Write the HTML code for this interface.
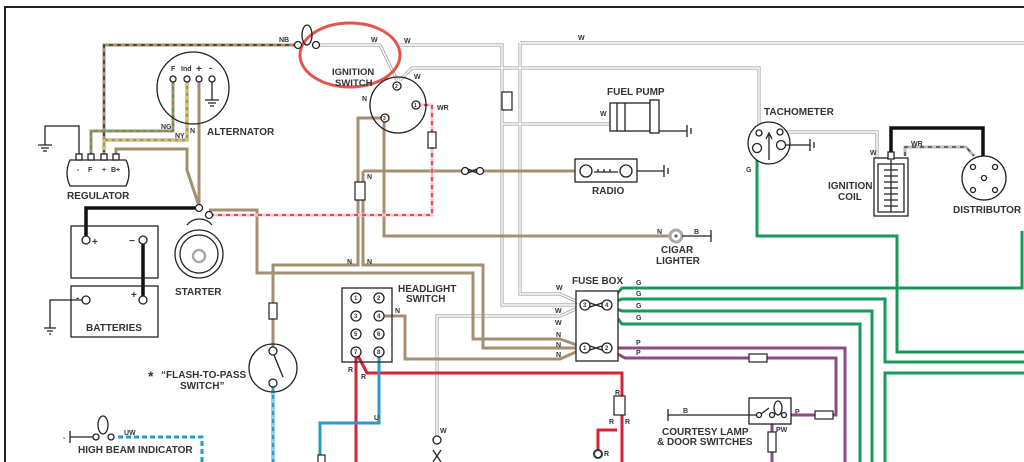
<!DOCTYPE html>
<html><head><meta charset="utf-8"><style>
html,body{margin:0;padding:0;background:#fff;}
svg{display:block;}
text{font-family:"Liberation Sans",Arial,sans-serif;font-weight:bold;fill:#333;}
.l{font-size:10px;}
.s{font-size:7px;}
.br{stroke:#a48f72;stroke-width:3;fill:none;}
.wo{stroke:#a9a9a9;stroke-width:3.2;fill:none;}
.wi{stroke:#fff;stroke-width:1.4;fill:none;}
.g{stroke:#179a58;stroke-width:3;fill:none;}
.p{stroke:#8e4a86;stroke-width:3;fill:none;}
.r{stroke:#d5233c;stroke-width:3;fill:none;}
.u{stroke:#2a9ac8;stroke-width:3;fill:none;}
.k{stroke:#222;stroke-width:1.3;fill:none;}
.kf{stroke:#222;stroke-width:1.3;fill:#fff;}
</style></head><body>
<svg width="1024" height="462" viewBox="0 0 1024 462" xmlns="http://www.w3.org/2000/svg">
<rect width="1024" height="462" fill="#fff"/>
<path d="M5,462 V7 H1024" stroke="#222" stroke-width="2" fill="none"/>

<g class="wo">
<path d="M316,45 H380 L397,80"/><path d="M400,45 H502 V124 H610"/><path d="M520,43 H1024"/>
<path d="M520,43 V294 H560 L585,305"/><path d="M502,124 V305 H585"/><path d="M400,80 L412,68 H759 V125"/>
<path d="M780,132 H877 V158"/><path d="M437,440 V316 H560 L585,305"/>
</g>
<g class="wi">
<path d="M316,45 H380 L397,80"/><path d="M400,45 H502 V124 H610"/><path d="M520,43 H1024"/>
<path d="M520,43 V294 H560 L585,305"/><path d="M502,124 V305 H585"/><path d="M400,80 L412,68 H759 V125"/>
<path d="M780,132 H877 V158"/><path d="M437,440 V316 H560 L585,305"/>
</g>

<path d="M297,45 H104 V156" stroke="#a48f72" stroke-width="3" fill="none"/>
<path d="M297,45 H104 V156" stroke="#222" stroke-width="1.3" stroke-dasharray="4,4" fill="none"/>
<path d="M91,156 V131 H173 V79" stroke="#a48f72" stroke-width="3" fill="none"/>
<path d="M91,156 V131 H173 V79" stroke="#2aa34a" stroke-width="1.3" stroke-dasharray="4,3" fill="none"/>
<path d="M104,150 V140 H187 V79" stroke="#a48f72" stroke-width="3" fill="none"/>
<path d="M104,150 V140 H187 V79" stroke="#f4e040" stroke-width="1.3" stroke-dasharray="4,3" fill="none"/>

<path class="br" d="M199,80 V206"/>
<path class="br" d="M116,156 V149 H187 V170 L199,206"/>
<path class="br" d="M209,210 H257 V273 H473 V339 H560 L585,348"/>
<path class="br" d="M384,118 V236 H670"/>
<path class="br" d="M384,118 H358 V265 H273 V351"/>
<path class="br" d="M363,171 H580"/>
<path class="br" d="M363,171 V265 H483 V348 H585"/>
<path class="br" d="M379,316 H405 V359 H560 L585,348"/>
<path d="M416,105 H432 V215 H210" stroke="#f3c7c7" stroke-width="3" fill="none"/>
<path d="M416,105 H432 V215 H210" stroke="#d5233c" stroke-width="1.5" stroke-dasharray="4,4" fill="none"/>
<path d="M905,156 V147 H966 L974,156" stroke="#bbb" stroke-width="3" fill="none"/>
<path d="M905,156 V147 H966 L974,156" stroke="#333" stroke-width="1.3" stroke-dasharray="4,4" fill="none"/>

<path d="M891,156 V128 H983 V178" stroke="#111" stroke-width="3.5" fill="none"/>
<path d="M199,208 H86 V240" stroke="#111" stroke-width="3.5" fill="none"/>
<path d="M143,240 V299" stroke="#111" stroke-width="3.5" fill="none"/>

<path class="g" d="M757,148 V236 H897 V352 H1024"/>
<path class="g" d="M607,305 L622,288 H1022 V231"/>
<path class="g" d="M607,305 L622,299 H885 V362 H1024"/>
<path class="g" d="M607,305 L622,311 H872 V462"/>
<path class="g" d="M607,305 L622,324 H860 V462"/>
<path class="g" d="M885,462 V373 H1024"/>
<path class="p" d="M607,348 H845 V462"/>
<path class="p" d="M607,348 L625,358 H836 V415 H790"/>
<path class="p" d="M772,420 V462"/>
<path class="r" d="M356,352 V462"/>
<path class="r" d="M356,352 L367,373 H622 V462"/>
<path class="r" d="M617,430 H598 V450"/>
<path class="u" d="M379,352 V423 H320 V462"/>
<path d="M273,383 V462" stroke="#2a9ac8" stroke-width="3" fill="none"/>
<path d="M273,383 V462" stroke="#fff" stroke-width="1" stroke-dasharray="4,4" fill="none"/>
<path d="M118,437 H202 V462" stroke="#2a9ac8" stroke-width="3" stroke-dasharray="5,3" fill="none"/>

<g fill="#fff" stroke="#222" stroke-width="1.2">
<rect x="502" y="92" width="10" height="18"/>
<rect x="428" y="132" width="8" height="16"/>
<rect x="355" y="182" width="10" height="18"/>
<rect x="269" y="303" width="8" height="16"/>
<rect x="614" y="396" width="11" height="19"/>
<rect x="749" y="354" width="18" height="8"/>
<rect x="815" y="411" width="18" height="8"/>
<rect x="768" y="432" width="8" height="20"/>
<rect x="318" y="455" width="7" height="10"/>
</g>

<ellipse cx="350" cy="55" rx="50" ry="32" fill="none" stroke="#e2574c" stroke-width="3"/>
<circle class="k" cx="398" cy="105" r="28"/>
<circle class="kf" cx="397" cy="86" r="4"/><circle class="kf" cx="416" cy="105" r="4"/><circle class="kf" cx="385" cy="118" r="4"/>
<text x="395" y="88" style="font-size:5px">2</text><text x="414" y="107" style="font-size:5px">1</text><text x="383" y="120" style="font-size:5px">3</text>
<text class="l" x="332" y="75" style="font-size:9.5px">IGNITION</text><text class="l" x="335" y="86" style="font-size:9.5px">SWITCH</text>
<ellipse cx="307" cy="35" rx="5" ry="10" class="k"/>
<circle class="kf" cx="298" cy="45" r="3.5"/><circle class="kf" cx="316" cy="45" r="3.5"/>

<circle class="k" cx="193" cy="88" r="36"/>
<g class="kf"><circle cx="173" cy="79" r="3"/><circle cx="187" cy="79" r="3"/><circle cx="199" cy="79" r="3"/><circle cx="212" cy="79" r="3"/></g>
<path class="k" d="M212,82 V100 M205,100 H219 M208,103 H216 M210,106 H214"/>
<text class="s" x="171" y="71">F</text><text class="s" x="181" y="71">Ind</text><text class="l" x="196" y="72">+</text><text class="l" x="209" y="71">-</text>
<text class="l" x="207" y="135">ALTERNATOR</text>

<path class="k" d="M45,145 V126 H79 V156"/>
<path class="k" d="M38,145 H52 M41,148 H49 M43,151 H47"/>
<path class="kf" d="M70,160 H126 Q132,173 126,186 H70 Q64,173 70,160 Z"/>
<g class="kf"><rect x="76" y="154" width="6" height="6"/><rect x="88" y="154" width="6" height="6"/><rect x="101" y="154" width="6" height="6"/><rect x="113" y="154" width="6" height="6"/></g>
<text class="s" x="77" y="172">-</text><text class="s" x="88" y="172">F</text><text class="s" x="102" y="172">+</text><text class="s" x="111" y="172">B+</text>
<text class="l" x="67" y="199">REGULATOR</text>

<circle class="kf" cx="199" cy="254" r="24"/><circle class="k" cx="199" cy="254" r="19"/>
<circle cx="199" cy="256" r="6" fill="none" stroke="#aaa" stroke-width="2.5"/>
<circle class="kf" cx="199" cy="208" r="3.5"/><circle class="kf" cx="209" cy="215" r="3.5"/>
<path class="k" d="M187,225 A16,16 0 0 1 212,225"/>
<text class="l" x="175" y="295">STARTER</text>

<rect class="k" x="71" y="226" width="87" height="52"/>
<rect class="k" x="71" y="286" width="87" height="51"/>
<circle class="kf" cx="86" cy="240" r="4"/><circle class="kf" cx="143" cy="240" r="4"/>
<circle class="kf" cx="86" cy="300" r="4"/><circle class="kf" cx="143" cy="300" r="4"/>
<text class="l" x="92" y="245">+</text><text class="l" x="129" y="244">−</text>
<text class="l" x="76" y="301">-</text><text class="l" x="131" y="298">+</text>
<path class="k" d="M82,300 H50 V328 M44,328 H56 M47,331 H53 M49,334 H51"/>
<text class="l" x="86" y="331">BATTERIES</text>

<rect class="k" x="342" y="288" width="50" height="74"/>
<g class="kf"><circle cx="356" cy="298" r="5"/><circle cx="379" cy="298" r="5"/><circle cx="356" cy="316" r="5"/><circle cx="379" cy="316" r="5"/><circle cx="356" cy="334" r="5"/><circle cx="379" cy="334" r="5"/><circle cx="356" cy="352" r="5"/><circle cx="379" cy="352" r="5"/></g>
<g style="font-size:6px"><text x="354" y="300">1</text><text x="377" y="300">2</text><text x="354" y="318">3</text><text x="377" y="318">4</text><text x="354" y="336">5</text><text x="377" y="336">6</text><text x="354" y="354">7</text><text x="377" y="354">8</text></g>
<text class="l" x="398" y="292">HEADLIGHT</text><text class="l" x="406" y="302">SWITCH</text>

<circle class="k" cx="273" cy="368" r="24"/>
<circle class="kf" cx="273" cy="351" r="4"/><circle class="kf" cx="273" cy="383" r="4"/>
<path class="k" d="M274,355 L283,377"/>
<text x="148" y="381" style="font-size:14px">*</text>
<text class="l" x="161" y="378">“FLASH-TO-PASS</text><text class="l" x="180" y="389">SWITCH”</text>

<path class="k" d="M70,431 V443 M70,437 H96"/>
<text class="s" x="63" y="440">-</text>
<ellipse class="k" cx="103" cy="425" rx="5" ry="9"/>
<circle class="kf" cx="96" cy="437" r="3"/><circle class="kf" cx="111" cy="437" r="3"/>
<text class="l" x="78" y="453">HIGH BEAM INDICATOR</text>

<rect class="kf" x="575" y="159" width="62" height="23"/>
<circle class="kf" cx="586" cy="171" r="6"/><circle class="kf" cx="626" cy="171" r="6"/>
<path class="k" d="M594,172 H618 M598,172 V169 M604,172 V169 M610,172 V169"/>
<path class="k" d="M637,171 H664 M664,165 V177 M668,168 V174"/>
<text class="l" x="592" y="194">RADIO</text>
<circle class="kf" cx="465" cy="171" r="3.5"/><circle class="kf" cx="480" cy="171" r="3.5"/>
<path class="k" d="M468,169 L477,173 M468,173 L477,169"/>

<rect class="kf" x="610" y="103" width="40" height="28"/>
<path class="k" d="M617,103 V131 M625,103 V131"/>
<rect class="kf" x="650" y="100" width="9" height="33"/>
<path class="k" d="M659,131 H687 M687,125 V137 M691,128 V134"/>
<text class="l" x="607" y="95">FUEL PUMP</text>

<circle cx="676" cy="236" r="6" fill="#fff" stroke="#aaa" stroke-width="3"/>
<circle cx="676" cy="236" r="1.5" fill="#555"/>
<path class="k" d="M682,236 H711 M711,230 V242"/>
<text class="l" x="661" y="253">CIGAR</text><text class="l" x="656" y="264">LIGHTER</text>

<rect class="kf" x="576" y="291" width="42" height="70"/>
<circle class="kf" cx="585" cy="305" r="5"/><circle class="kf" cx="607" cy="305" r="5"/>
<circle class="kf" cx="585" cy="348" r="5"/><circle class="kf" cx="607" cy="348" r="5"/>
<path class="k" d="M590,303 L602,307 M590,307 L602,303 M590,346 L602,350 M590,350 L602,346"/>
<g style="font-size:6px"><text x="583" y="307">3</text><text x="605" y="307">4</text><text x="583" y="350">1</text><text x="605" y="350">2</text></g>
<text class="l" x="572" y="284">FUSE BOX</text>

<rect class="kf" x="749" y="398" width="42" height="26"/>
<path class="k" d="M668,409 V421 M668,415 H757"/>
<circle class="kf" cx="759" cy="415" r="2.5"/><circle class="kf" cx="772" cy="415" r="2.5"/><circle class="kf" cx="784" cy="415" r="2.5"/>
<path class="k" d="M761,414 L769,408"/><ellipse class="k" cx="778" cy="408" rx="4" ry="7"/>
<text class="l" x="662" y="435">COURTESY LAMP</text><text class="l" x="657" y="445">&amp; DOOR SWITCHES</text>
<circle class="kf" cx="437" cy="440" r="4"/><path class="k" d="M433,462 L441,450 M441,462 L433,450"/>
<circle cx="598" cy="454" r="4" fill="#fff" stroke="#333" stroke-width="2"/>

<circle class="kf" cx="769" cy="143" r="21"/>
<circle class="kf" cx="759" cy="133" r="3"/><circle class="kf" cx="780" cy="132" r="3"/>
<circle class="kf" cx="757" cy="148" r="4.5"/><circle class="kf" cx="781" cy="145" r="4.5"/>
<path class="k" d="M769,160 V135 M766,139 L769,133 L772,139"/>
<path class="k" d="M786,145 H810 M810,139 V151 M814,142 V148"/>
<text class="l" x="764" y="115">TACHOMETER</text>
<rect class="kf" x="874" y="158" width="34" height="58"/>
<path class="k" d="M878,164 H904 V212 H878 Z"/>
<path class="k" d="M891,160 V212 M884,170 H898 M884,176 H898 M884,182 H898 M884,188 H898 M884,194 H898 M884,200 H898 M884,206 H898"/>
<rect class="kf" x="888" y="152" width="6" height="7"/>
<text class="l" x="828" y="189">IGNITION</text><text class="l" x="838" y="200">COIL</text>
<circle class="kf" cx="984" cy="178" r="22"/>
<g class="kf"><circle cx="973" cy="167" r="2.5"/><circle cx="995" cy="167" r="2.5"/><circle cx="973" cy="190" r="2.5"/><circle cx="995" cy="190" r="2.5"/><circle cx="984" cy="178" r="2.5"/></g>
<text class="l" x="953" y="213">DISTRIBUTOR</text>

<g class="s">
<text x="279" y="42">NB</text><text x="371" y="42">W</text><text x="404" y="43">W</text><text x="414" y="79">W</text>
<text x="578" y="40">W</text><text x="362" y="101">N</text><text x="437" y="110">WR</text>
<text x="161" y="129">NG</text><text x="175" y="138">NY</text><text x="190" y="133">N</text>
<text x="600" y="116">W</text><text x="367" y="179">N</text><text x="746" y="172">G</text>
<text x="870" y="155">W</text><text x="911" y="146">WR</text>
<text x="347" y="264">N</text><text x="367" y="264">N</text><text x="395" y="313">N</text>
<text x="657" y="234">N</text><text x="694" y="234">B</text>
<text x="556" y="290">W</text><text x="555" y="313">W</text><text x="555" y="325">W</text>
<text x="556" y="337">N</text><text x="556" y="347">N</text><text x="556" y="357">N</text>
<text x="636" y="285">G</text><text x="636" y="296">G</text><text x="636" y="308">G</text><text x="636" y="320">G</text>
<text x="636" y="345">P</text><text x="636" y="355">P</text>
<text x="348" y="372">R</text><text x="361" y="379">R</text><text x="374" y="420">U</text>
<text x="615" y="395">R</text><text x="609" y="424">R</text><text x="625" y="424">R</text><text x="604" y="456">R</text>
<text x="683" y="413">B</text><text x="795" y="414">P</text><text x="776" y="432">PW</text>
<text x="124" y="435">UW</text><text x="440" y="433">W</text>
</g>
</svg>
</body></html>
